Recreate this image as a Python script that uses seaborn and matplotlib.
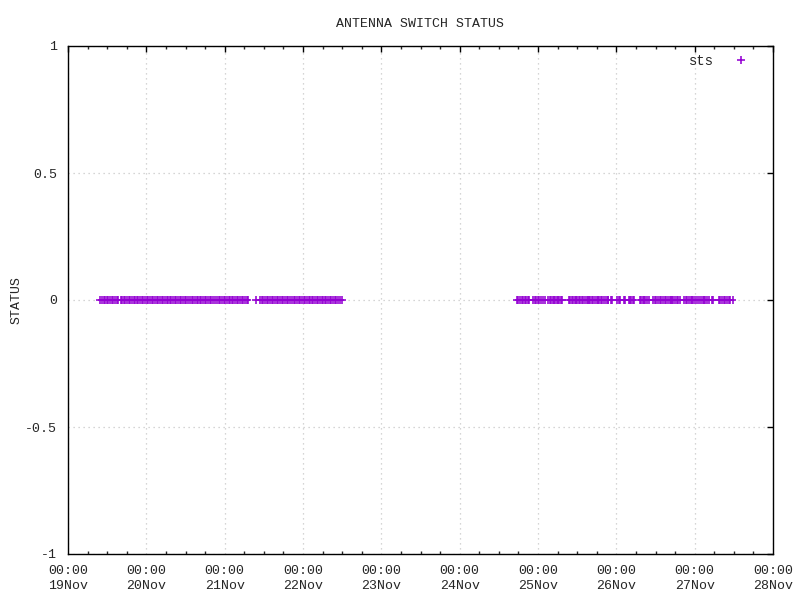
import numpy as np
import pandas as pd
import matplotlib
matplotlib.use("Agg")
import matplotlib.pyplot as plt
import matplotlib.dates as mdates
from matplotlib.ticker import FormatStrFormatter
import seaborn as sns

# ---- data: sample times in hours after 19 Nov 00:00, status value ----
hours_a = [
    9.8, 10.4, 10.9, 11.4, 11.9, 12.4, 12.9, 13.4, 13.9, 14.4, 14.9, 15.3,
    16.1, 16.6, 17.1, 17.6, 18.1, 18.6, 19.1, 19.6, 20.1, 20.6, 21.1, 21.6,
    22.1, 22.6, 23.1, 23.6, 24.1, 24.6, 25.1, 25.6, 26.0,
    26.7, 27.2, 27.7, 28.2, 28.7, 29.2, 29.7, 30.2, 30.7, 31.2, 31.7, 32.2,
    32.7, 33.2, 33.7, 34.2, 34.7, 35.2, 35.7, 36.2,
    36.9, 37.4, 37.9, 38.4, 38.9, 39.4, 39.9, 40.4, 40.9, 41.4, 41.9, 42.4,
    42.9, 43.4, 43.9, 44.4, 44.9,
    45.7, 46.2, 46.7, 47.2, 47.7, 48.2, 48.7, 49.2, 49.7, 50.2, 50.7, 51.2,
    51.7, 52.2, 52.7, 53.2, 53.7, 54.2, 54.7, 55.1,
]
hours_b = [
    57.6,
    58.8, 59.3, 59.7, 60.4, 60.9, 61.4, 61.9, 62.4, 62.9, 63.4, 63.9, 64.3,
    65.0, 65.5, 66.0, 66.5, 67.0, 67.5, 68.0,
    68.7, 69.2, 69.7, 70.2, 70.7, 71.2, 71.7, 72.2, 72.7, 73.2, 73.7, 74.2,
    74.7, 75.2, 75.7, 76.2, 76.7, 77.2, 77.7, 78.2, 78.7, 79.2, 79.7, 80.2,
    80.7, 81.2, 81.7, 82.2, 82.7, 83.4, 84.1,
]
hours_c = [
    137.5, 138.0, 138.5, 139.0, 139.5, 140.0, 140.4, 140.8,
    141.3,
    142.5, 143.0, 143.4, 143.9, 144.3,
    144.8,
    145.6, 146.0,
    147.1, 147.6, 148.0, 148.5, 148.9,
    149.3, 149.7,
    150.1, 150.5,
    151.1, 151.4,
    153.4, 153.9, 154.3, 154.8, 155.2, 155.6,
    156.1, 156.5,
    156.9, 157.4, 157.9, 158.4, 158.9, 159.3,
    159.6, 160.0, 160.5, 161.0, 161.5, 162.0, 162.4, 162.8,
    163.3, 163.6,
    164.2, 164.8,
    165.3, 165.6,
    166.3, 166.7,
    168.3, 168.7,
    169.2,
    170.3, 170.7,
    171.8, 172.1, 172.4,
    173.0, 173.4,
    175.3, 175.7, 176.1, 176.5,
    176.9, 177.4, 177.9,
    179.3, 179.8, 180.3, 180.8, 181.3, 181.8, 182.3, 182.8, 183.3, 183.8,
    184.3, 184.7, 185.1,
    185.5, 186.0, 186.5, 187.0, 187.5,
    188.8, 189.3, 189.8, 190.3, 190.8,
    191.2, 191.6,
    192.2, 192.6,
    193.4, 193.9, 194.4, 194.9,
    195.3, 195.7,
    196.4,
    197.3, 197.7,
    199.4, 199.9, 200.4, 200.9, 201.4, 201.8,
    202.4, 202.8,
    203.6,
]
status_value = 0
series_name = "sts"
start_time = "2000-11-19 00:00"
end_time = "2000-11-28 00:00"
y_ticks = [-1, -0.5, 0, 0.5, 1]

hours = hours_a + hours_b + hours_c
df = pd.DataFrame({
    "time": pd.Timestamp(start_time) + pd.to_timedelta(hours, unit="h"),
    "status": [status_value] * len(hours),
    "series": [series_name] * len(hours),
})

# ---- style ----
sns.set_style("white")
plt.rcParams["font.family"] = ["Liberation Mono", "DejaVu Sans Mono"]
plt.rcParams["axes.unicode_minus"] = False
plt.rcParams["font.size"] = 9.5

fig = plt.figure(figsize=(8, 6), dpi=100)
ax = fig.add_axes([68 / 800, 1 - 554 / 600, (773 - 68) / 800, (554 - 46) / 600])

sns.scatterplot(data=df, x="time", y="status", hue="series",
                palette=["#9400D3"], marker="+", s=26, linewidth=1.15,
                ax=ax, legend=True, zorder=3)

ax.set_xlim(pd.Timestamp(start_time), pd.Timestamp(end_time))
ax.set_ylim(-1, 1)
ax.set_yticks(y_ticks)
ax.yaxis.set_major_formatter(FormatStrFormatter("%g"))

ax.xaxis.set_major_locator(mdates.DayLocator())
ax.xaxis.set_minor_locator(mdates.HourLocator(byhour=[6, 12, 18]))
ax.xaxis.set_major_formatter(mdates.DateFormatter("%H:%M\n%d%b"))

ax.tick_params(axis="both", which="major", direction="in", length=4,
               width=1, color="black", top=True, right=True, labelsize=9.5,
               pad=8)
ax.tick_params(axis="x", which="minor", direction="in", length=2, width=1,
               top=True, bottom=True)
ax.tick_params(axis="y", which="major", pad=8)
for lbl in ax.get_xticklabels():
    lbl.set_linespacing(1.3)

ax.grid(True, which="major", color="#c8c8c8", linestyle=(0, (1, 3)),
        linewidth=0.9, zorder=0)
for sp in ax.spines.values():
    sp.set_color("black")
    sp.set_linewidth(1)
    sp.set_visible(True)

ax.set_xlabel("")
ax.set_ylabel("STATUS", fontsize=9.5, labelpad=2)
ax.set_title("ANTENNA SWITCH STATUS", fontsize=9.5, pad=13.5)

leg = ax.legend(loc="upper right", frameon=False, markerfirst=False,
                handletextpad=0.95, borderaxespad=0.2, fontsize=10,
                bbox_to_anchor=(0.9865, 1.001))

fig.savefig("out.png", dpi=100)
